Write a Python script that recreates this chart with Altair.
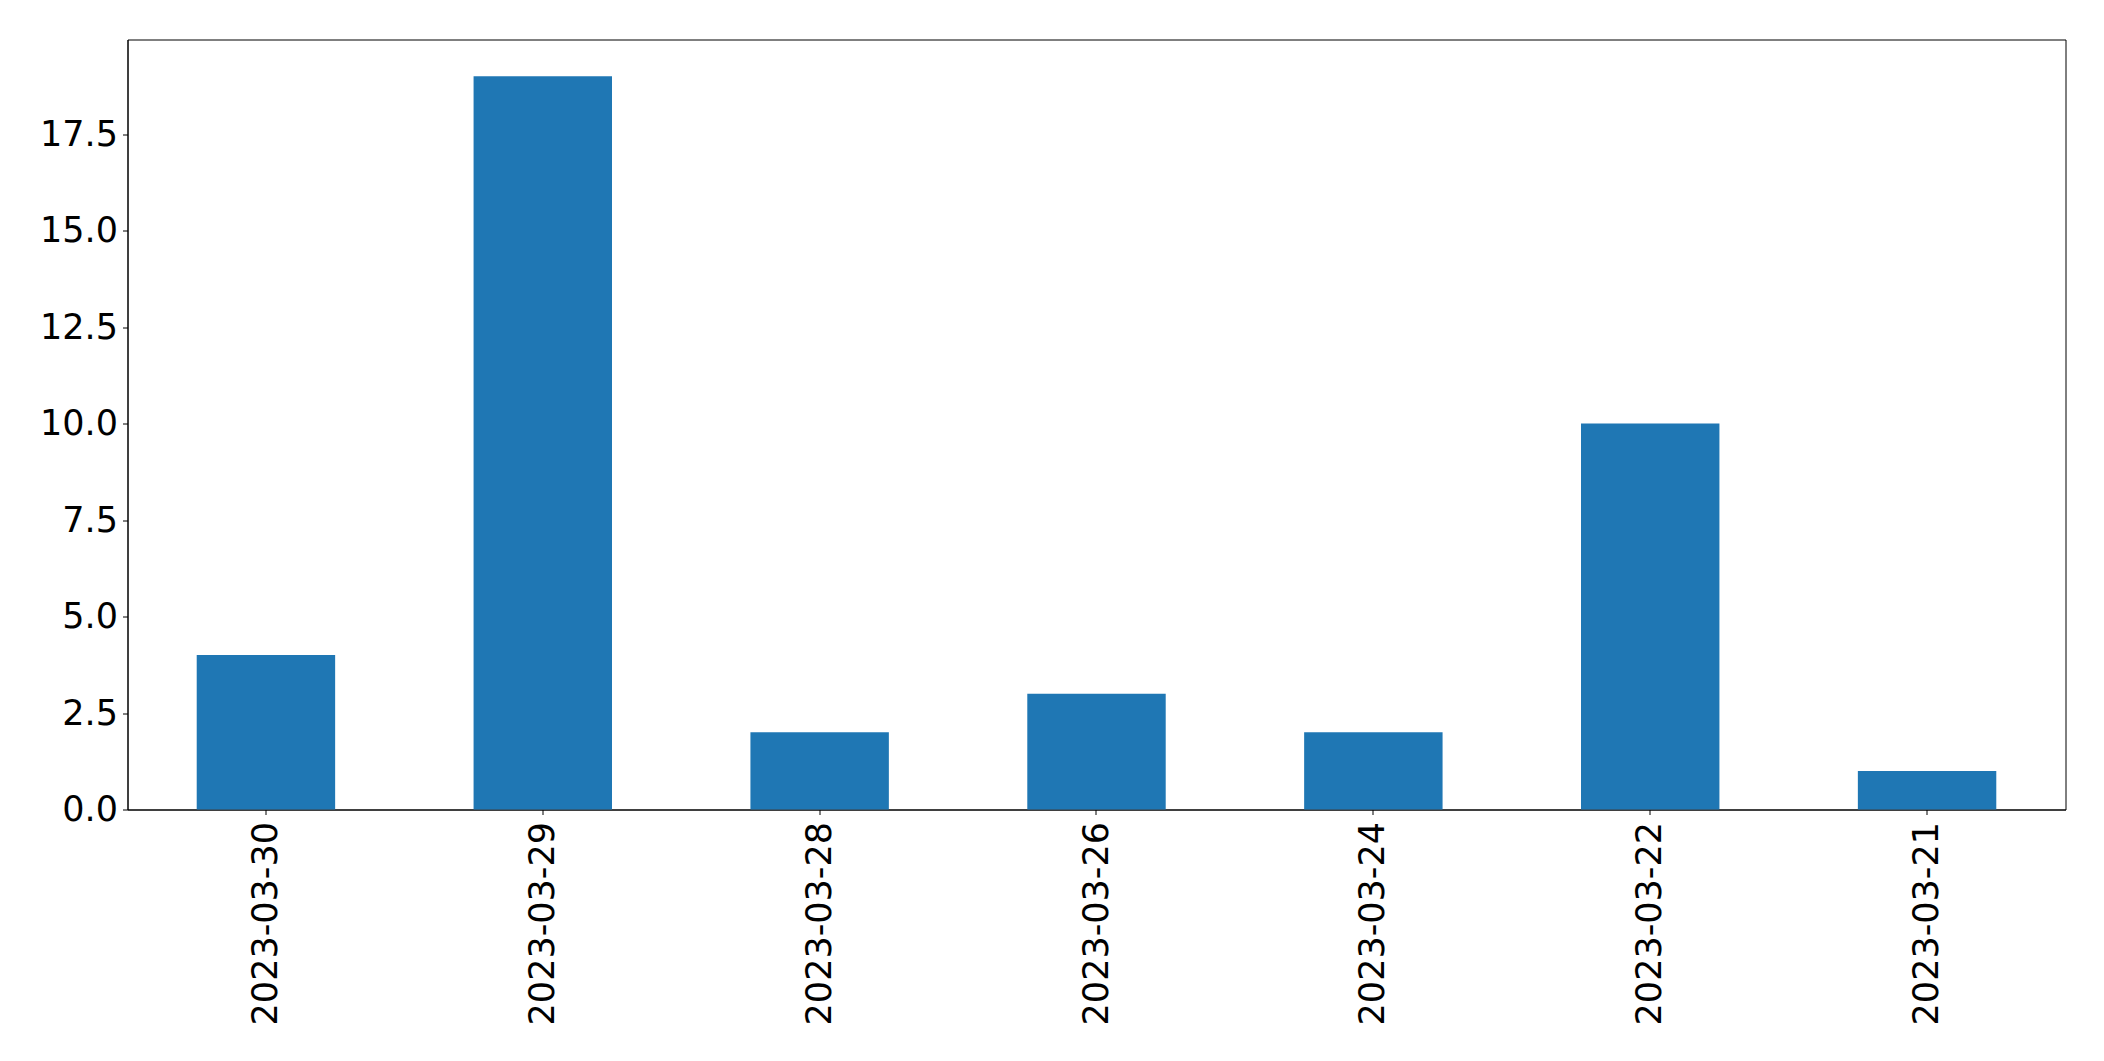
import altair as alt
import pandas as pd

dates = ["2023-03-30", "2023-03-29", "2023-03-28", "2023-03-26", "2023-03-24", "2023-03-22", "2023-03-21"]
counts = [4, 19, 2, 3, 2, 10, 1]
y_ticks = [0, 2.5, 5, 7.5, 10, 12.5, 15, 17.5]

df = pd.DataFrame({"date": dates, "count": counts})

chart = alt.Chart(df).mark_bar(color="#1f77b4").encode(
    x=alt.X("date:N", sort=None, title=None,
            scale=alt.Scale(paddingInner=0.5, paddingOuter=0.25),
            axis=alt.Axis(labelAngle=270, labelFont="DejaVu Sans", labelFontSize=35,
                          labelColor="black", tickColor="black", tickSize=5,
                          domainColor="black", labelPadding=7, labelOverlap=False,
                          labelLimit=1000)),
    y=alt.Y("count:Q", title=None,
            scale=alt.Scale(domain=[0, 19.95], nice=False, zero=True),
            axis=alt.Axis(values=y_ticks, format=".1f", labelFont="DejaVu Sans", labelFontSize=35,
                          labelColor="black", tickColor="black", tickSize=5, grid=False,
                          domainColor="black", labelPadding=5, labelLimit=1000)),
).properties(
    width=1938, height=770,
    autosize=alt.AutoSizeParams(type="none"),
    padding={"left": 119.5, "top": 31.5, "right": 30, "bottom": 240},
).configure_view(
    stroke="black", strokeWidth=1
).configure_axis(
    domainWidth=1, tickWidth=1
)

chart.save("out.html", embed_options={"renderer": "svg", "actions": False})
